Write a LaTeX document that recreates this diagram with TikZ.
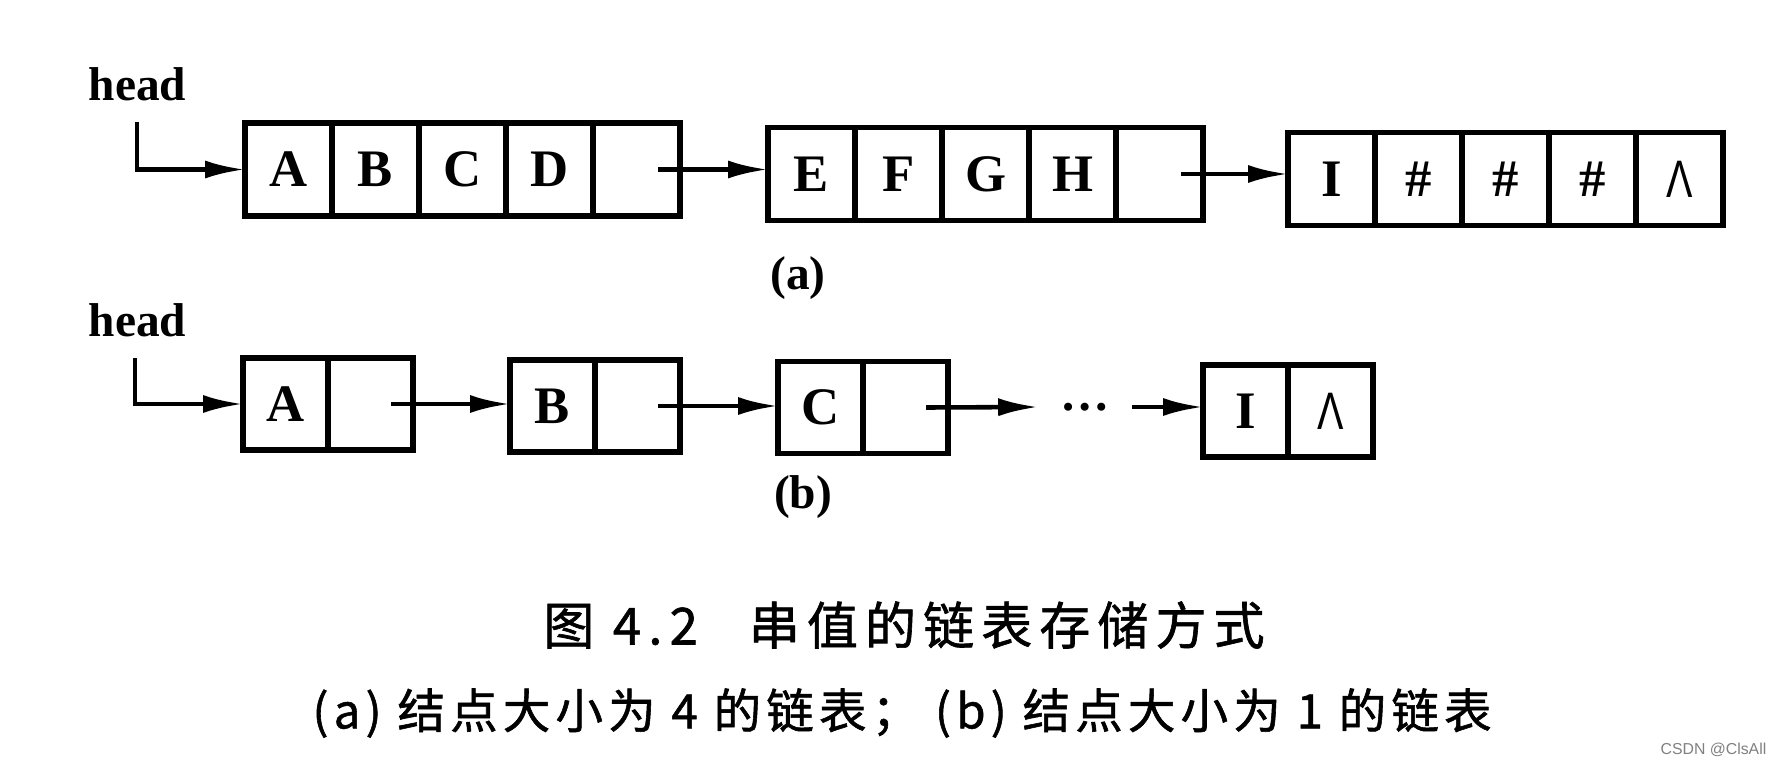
\documentclass[tikz,border=0pt]{standalone}
\usepackage{fontspec}
\setmainfont{Liberation Serif}
\newfontfamily\cjktitle[LetterSpace=14, FakeBold=1.2]{Noto Sans CJK SC}
\newfontfamily\cjksub[LetterSpace=11, FakeBold=1.2]{Noto Sans CJK SC}
\newfontfamily\lamfont{Liberation Sans}
\usetikzlibrary{arrows.meta,positioning}

\begin{document}
\begin{tikzpicture}[
  x=1cm,
  y=1cm,
  cell/.style={draw, line width=1.6pt, minimum width=8.7mm, minimum height=9.3mm, inner sep=0pt, outer sep=0pt, font=\fontsize{15}{18}\selectfont\bfseries},
  bcell/.style={cell, minimum width=8.5mm, minimum height=9.2mm},
  tag/.style={inner sep=0pt, font=\fontsize{13.5}{16}\selectfont\bfseries},
  arrow/.style={-{Latex[length=4mm,width=1.8mm]}, line width=1.3pt},
  captext/.style={inner sep=0pt}
]
  \useasboundingbox (0,0) rectangle (17.76,-7.62);

  % (a) node size 4
  \node[tag, anchor=base west] (head1) at (0.88,-1.00) {head};
  \node[cell, anchor=west] (a11) at (2.45,-1.695) {A};
  \node[cell, right=0pt of a11] (a12) {B};
  \node[cell, right=0pt of a12] (a13) {C};
  \node[cell, right=0pt of a13] (a14) {D};
  \node[cell, right=0pt of a14] (a15) {};

  \node[cell, anchor=west] (a21) at (7.68,-1.74) {E};
  \node[cell, right=0pt of a21] (a22) {F};
  \node[cell, right=0pt of a22] (a23) {G};
  \node[cell, right=0pt of a23] (a24) {H};
  \node[cell, right=0pt of a24] (a25) {};

  \node[cell, anchor=west] (a31) at (12.88,-1.79) {I};
  \node[cell, right=0pt of a31] (a32) {\#};
  \node[cell, right=0pt of a32] (a33) {\#};
  \node[cell, right=0pt of a33] (a34) {\#};
  \node[cell, right=0pt of a34] (a35) {\scalebox{0.75}[1]{\lamfont\mdseries Λ}};

  \node[tag] (la) at (7.98,-2.78) {(a)};

  \coordinate (h1) at (1.37,-1.22);
  \draw[arrow] (h1) |- (a11.west);
  \draw[arrow] ([xshift=-2.2mm]a15.east) -- (a15.east -| a21.west);
  \draw[arrow] ([xshift=-2.2mm]a25.east) -- (a25.east -| a31.west);

  % (b) node size 1
  \node[tag, anchor=base west] (head2) at (0.88,-3.36) {head};
  \node[bcell, anchor=west] (bA) at (2.43,-4.04) {A};
  \node[bcell, right=0pt of bA] (bAp) {};
  \node[bcell, anchor=west] (bB) at (5.10,-4.06) {B};
  \node[bcell, right=0pt of bB] (bBp) {};
  \node[bcell, anchor=west] (bC) at (7.78,-4.075) {C};
  \node[bcell, right=0pt of bC] (bCp) {};
  \node[inner xsep=2.15mm, inner ysep=0pt, font=\fontsize{14}{16}\selectfont\bfseries] (gap) at (10.85,-4.07) {…};
  \node[bcell, anchor=west] (bI) at (12.03,-4.11) {I};
  \node[bcell, right=0pt of bI] (bIp) {\scalebox{0.75}[1]{\lamfont\mdseries Λ}};

  \node[tag] (lb) at (8.03,-4.97) {(b)};

  \coordinate (h2) at (1.35,-3.58);
  \draw[arrow] (h2) |- (bA.west);
  \draw[arrow] ([xshift=-2.2mm]bAp.east) -- (bAp.east -| bB.west);
  \draw[arrow] ([xshift=-2.2mm]bBp.east) -- (bBp.east -| bC.west);
  \draw[arrow] ([xshift=-2.2mm]bCp.east) -- (gap.west);
  \draw[arrow] (gap.east) -- (gap.east -| bI.west);

  % caption
  \node[captext, font=\cjktitle\fontsize{14.5}{17}\selectfont] (title) at (9.04,-6.25) {图 4.2\quad 串值的链表存储方式};
  \node[captext, font=\cjksub\fontsize{13.5}{16}\selectfont] (sub) at (9.02,-7.13) {(a) 结点大小为 4 的链表； (b) 结点大小为 1 的链表};
  \node[anchor=east, inner sep=0pt, text=gray, font=\lamfont\fontsize{4.5}{5}\selectfont] (csdn) at (17.67,-7.50) {CSDN @ClsAll};
\end{tikzpicture}
\end{document}
